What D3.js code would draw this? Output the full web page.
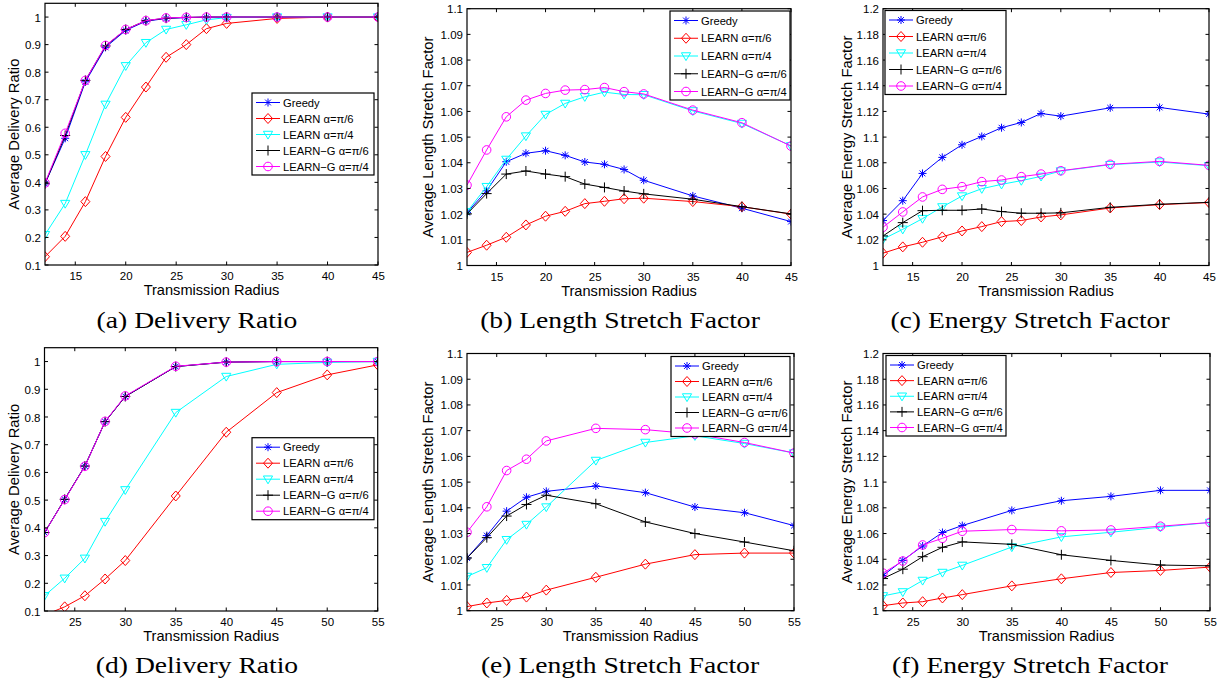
<!DOCTYPE html>
<html><head><meta charset="utf-8">
<script src="https://cdn.jsdelivr.net/npm/d3@7"></script>
<style>body{margin:0;background:#fff}svg{display:block}</style>
</head><body><svg id="c" width="1225" height="685"></svg>
<script>
// ---------- data ----------
const seriesNames = ["Greedy", "LEARN \u03b1=\u03c0/6", "LEARN \u03b1=\u03c0/4", "LEARN\u2212G \u03b1=\u03c0/6", "LEARN\u2212G \u03b1=\u03c0/4"];
const seriesColors = ["#0000ff", "#ff0000", "#00ffff", "#000000", "#ff00ff"];
const seriesMarkers = ["star", "diamond", "triangle", "plus", "circle"];

const radiusTop = [12, 14, 16, 18, 20, 22, 24, 26, 28, 30, 35, 40, 45];
const radiusBottom = [22, 24, 26, 28, 30, 35, 40, 45, 50, 55];
const xTicksTop = [15, 20, 25, 30, 35, 40, 45];
const xTicksBottom = [25, 30, 35, 40, 45, 50, 55];
const deliveryTicks = [0.1, 0.2, 0.3, 0.4, 0.5, 0.6, 0.7, 0.8, 0.9, 1];
const lengthTicks = [1, 1.01, 1.02, 1.03, 1.04, 1.05, 1.06, 1.07, 1.08, 1.09, 1.1];
const energyTicks = [1, 1.02, 1.04, 1.06, 1.08, 1.1, 1.12, 1.14, 1.16, 1.18, 1.2];

// (a) delivery ratio, top row
const deliveryA = [
  [0.395, 0.56, 0.765, 0.89, 0.952, 0.985, 0.995, 0.998, 1, 1, 1, 1, 1],
  [0.13, 0.204, 0.33, 0.494, 0.636, 0.746, 0.854, 0.9, 0.958, 0.977, 0.995, 1, 1],
  [0.21, 0.323, 0.5, 0.683, 0.823, 0.907, 0.955, 0.972, 0.99, 0.998, 1, 1, 1],
  [0.395, 0.57, 0.77, 0.895, 0.955, 0.987, 0.996, 0.999, 1, 1, 1, 1, 1],
  [0.398, 0.578, 0.77, 0.897, 0.955, 0.987, 0.997, 0.999, 1, 1, 1, 1, 1]
];
// (b) length stretch factor, top row
const lengthB = [
  [1.0206, 1.0291, 1.0404, 1.0437, 1.0447, 1.0429, 1.0403, 1.0394, 1.0374, 1.0332, 1.0271, 1.0223, 1.0171],
  [1.0051, 1.0079, 1.011, 1.0158, 1.0192, 1.0211, 1.0241, 1.025, 1.026, 1.0262, 1.0249, 1.0229, 1.02],
  [1.0209, 1.0307, 1.0413, 1.0504, 1.0588, 1.0631, 1.0657, 1.0675, 1.0666, 1.0665, 1.0602, 1.0553, 1.0466],
  [1.0201, 1.028, 1.0356, 1.0368, 1.0356, 1.0346, 1.0317, 1.0304, 1.029, 1.0279, 1.0258, 1.0229, 1.0201],
  [1.0313, 1.045, 1.0579, 1.0644, 1.067, 1.0683, 1.0685, 1.0693, 1.0677, 1.0668, 1.0605, 1.0556, 1.0465]
];
// (c) energy stretch factor, top row
const energyC = [
  [1.035, 1.0505, 1.0717, 1.0842, 1.094, 1.1005, 1.1073, 1.1114, 1.1184, 1.1163, 1.1228, 1.1231, 1.1179],
  [1.0096, 1.0145, 1.0181, 1.0223, 1.0269, 1.0303, 1.0342, 1.035, 1.0378, 1.0394, 1.0448, 1.0474, 1.049],
  [1.0205, 1.0282, 1.0365, 1.0456, 1.0541, 1.0598, 1.0632, 1.0661, 1.0694, 1.0736, 1.0785, 1.0806, 1.0777],
  [1.023, 1.0334, 1.0427, 1.043, 1.043, 1.044, 1.042, 1.0407, 1.0407, 1.041, 1.0453, 1.0477, 1.0492],
  [1.0298, 1.0417, 1.0534, 1.0593, 1.0614, 1.0653, 1.0666, 1.0692, 1.0712, 1.0738, 1.0788, 1.0811, 1.078]
];
// (d) delivery ratio, bottom row
const deliveryD = [
  [0.383, 0.503, 0.623, 0.783, 0.874, 0.982, 0.998, 1, 1, 1],
  [0.085, 0.115, 0.155, 0.2155, 0.282, 0.515, 0.745, 0.888, 0.952, 0.988],
  [0.155, 0.218, 0.29, 0.4225, 0.537, 0.816, 0.946, 0.99, 0.997, 1],
  [0.383, 0.503, 0.623, 0.783, 0.874, 0.982, 0.998, 1, 1, 1],
  [0.383, 0.502, 0.622, 0.784, 0.876, 0.983, 0.998, 1, 1, 1]
];
// (e) length stretch factor, bottom row
const lengthE = [
  [1.0205, 1.0292, 1.0387, 1.0441, 1.0464, 1.0485, 1.0459, 1.0403, 1.0381, 1.0331],
  [1.0016, 1.003, 1.004, 1.0053, 1.008, 1.013, 1.0181, 1.0218, 1.0224, 1.0224],
  [1.0133, 1.0167, 1.0276, 1.0335, 1.0403, 1.0584, 1.0654, 1.068, 1.065, 1.0613],
  [1.0205, 1.0284, 1.0368, 1.0413, 1.0449, 1.0416, 1.0345, 1.03, 1.0267, 1.0233],
  [1.0305, 1.0404, 1.0545, 1.0589, 1.066, 1.0709, 1.0704, 1.0687, 1.0654, 1.0613]
];
// (f) energy stretch factor, bottom row
const energyF = [
  [1.0274, 1.0391, 1.0503, 1.0608, 1.0662, 1.078, 1.0855, 1.0889, 1.0936, 1.0936],
  [1.0039, 1.006, 1.007, 1.0099, 1.0125, 1.0193, 1.0248, 1.0297, 1.0313, 1.0339],
  [1.0115, 1.0146, 1.0235, 1.0297, 1.0352, 1.0495, 1.0574, 1.061, 1.0649, 1.0686],
  [1.025, 1.0323, 1.042, 1.0493, 1.0535, 1.0516, 1.0435, 1.0391, 1.0355, 1.0349],
  [1.0292, 1.0386, 1.0511, 1.0563, 1.0618, 1.0631, 1.0621, 1.0628, 1.0657, 1.0686]
];

// ---------- layout ----------
const panels = [
  {id:"a", box:{l:45, r:378, t:3.3, b:265}, xd:[12,45], yd:[0.1,1.05], xs:radiusTop, xt:xTicksTop, yt:deliveryTicks, data:deliveryA,
   leg:{x:252, y:93, w:122, h:82}, ylab:"Average Delivery Ratio", ylabX:19, cap:"(a) Delivery Ratio", capX:197, capY:328},
  {id:"b", box:{l:467, r:791, t:8.7, b:265.5}, xd:[12,45], yd:[1,1.1], xs:radiusTop, xt:xTicksTop, yt:lengthTicks, data:lengthB,
   leg:{x:670, y:11, w:120, h:89}, ylab:"Average Length Stretch Factor", ylabX:433, cap:"(b) Length Stretch Factor", capX:620, capY:328},
  {id:"c", box:{l:883, r:1209, t:8.7, b:265.5}, xd:[12,45], yd:[1,1.2], xs:radiusTop, xt:xTicksTop, yt:energyTicks, data:energyC,
   leg:{x:885, y:10.5, w:121, h:84}, ylab:"Average Energy Stretch Factor", ylabX:851.5, cap:"(c) Energy Stretch Factor", capX:1030, capY:328},
  {id:"d", box:{l:44.5, r:377.7, t:347.7, b:611}, xd:[22,55], yd:[0.1,1.05], xs:radiusBottom, xt:xTicksBottom, yt:deliveryTicks, data:deliveryD,
   leg:{x:252, y:437.7, w:122, h:82}, ylab:"Average Delivery Ratio", ylabX:19, cap:"(d) Delivery Ratio", capX:197, capY:673},
  {id:"e", box:{l:467, r:794, t:353.5, b:610.7}, xd:[22,55], yd:[1,1.1], xs:radiusBottom, xt:xTicksBottom, yt:lengthTicks, data:lengthE,
   leg:{x:671, y:356.5, w:119, h:80}, ylab:"Average Length Stretch Factor", ylabX:433, cap:"(e) Length Stretch Factor", capX:620, capY:673},
  {id:"f", box:{l:883, r:1210, t:353.5, b:610.7}, xd:[22,55], yd:[1,1.2], xs:radiusBottom, xt:xTicksBottom, yt:energyTicks, data:energyF,
   leg:{x:886, y:355.5, w:120, h:80.5}, ylab:"Average Energy Stretch Factor", ylabX:851.5, cap:"(f) Energy Stretch Factor", capX:1030, capY:673}
];

const SANS = "'Liberation Sans', Arial, Helvetica, sans-serif";
const SERIF = "'Liberation Serif', 'Times New Roman', Times, serif";
const fmt = d => String(+d.toFixed(2));

function markerPath(kind) {
  if (kind === "star") { const s = 4, k = 2.9;
    return `M0,${-s}L0,${s}M${-s},0L${s},0M${-k},${-k}L${k},${k}M${-k},${k}L${k},${-k}`; }
  if (kind === "plus") { const s = 5; return `M0,${-s}L0,${s}M${-s},0L${s},0`; }
  if (kind === "diamond") { const s = 5; return `M0,${-s}L${s*0.9},0L0,${s}L${-s*0.9},0Z`; }
  if (kind === "triangle") { const s = 4.6; return `M${-s},${-s*0.7}L${s},${-s*0.7}L0,${s*1.0}Z`; }
  return null;
}
function drawMarker(g, kind, color, x, y) {
  if (kind === "circle") {
    g.append("circle").attr("cx", x).attr("cy", y).attr("r", 4.3)
      .attr("fill", "none").attr("stroke", color).attr("stroke-width", 1);
  } else {
    g.append("path").attr("d", markerPath(kind)).attr("transform", `translate(${x},${y})`)
      .attr("fill", "none").attr("stroke", color).attr("stroke-width", 1);
  }
}

const svg = d3.select("#c");
svg.append("rect").attr("width", 1225).attr("height", 685).attr("fill", "#fff");
const defs = svg.append("defs");

panels.forEach(p => {
  const {l, r, t, b} = p.box;
  const x = d3.scaleLinear().domain(p.xd).range([l, r]);
  const y = d3.scaleLinear().domain(p.yd).range([b, t]);
  const g = svg.append("g");

  defs.append("clipPath").attr("id", "clip-" + p.id)
    .append("rect").attr("x", l).attr("y", t).attr("width", r - l).attr("height", b - t);

  // axes (MATLAB style: inward ticks on all four sides)
  const tl = 3.5;
  const axB = g.append("g").attr("transform", `translate(0,${b})`)
    .call(d3.axisBottom(x).tickValues(p.xt).tickSize(0).tickPadding(5).tickFormat(d3.format("d")));
  const axT = g.append("g").attr("transform", `translate(0,${t})`)
    .call(d3.axisTop(x).tickValues(p.xt).tickSize(0).tickFormat(""));
  const axL = g.append("g").attr("transform", `translate(${l},0)`)
    .call(d3.axisLeft(y).tickValues(p.yt).tickSize(0).tickPadding(4).tickFormat(fmt));
  const axR = g.append("g").attr("transform", `translate(${r},0)`)
    .call(d3.axisRight(y).tickValues(p.yt).tickSize(0).tickFormat(""));
  [axB, axT, axL, axR].forEach(a => {
    a.select(".domain").remove();
    a.selectAll("text").attr("font-family", SANS).attr("font-size", 11.5).attr("fill", "#000");
  });
  axB.selectAll("text").attr("dy", "0").attr("y", 15);
  axL.selectAll("text").attr("dy", "0.35em");

  // series
  const plot = g.append("g").attr("clip-path", `url(#clip-${p.id})`);
  const line = d3.line().x((d, i) => x(p.xs[i])).y(d => y(d));
  p.data.forEach((vals, si) => {
    const sg = plot.append("g");
    sg.append("path").attr("d", line(vals)).attr("fill", "none")
      .attr("stroke", seriesColors[si]).attr("stroke-width", 1);
    vals.forEach((v, i) => {
      if (v < p.yd[0] || v > p.yd[1]) return;
      drawMarker(sg, seriesMarkers[si], seriesColors[si], x(p.xs[i]), y(v));
    });
  });

  // ticks + frame
  const tg = g.append("g").attr("stroke", "#000").attr("stroke-width", 1);
  p.xt.forEach(v => {
    tg.append("line").attr("x1", x(v)).attr("x2", x(v)).attr("y1", b).attr("y2", b - tl);
    tg.append("line").attr("x1", x(v)).attr("x2", x(v)).attr("y1", t).attr("y2", t + tl);
  });
  p.yt.forEach(v => {
    tg.append("line").attr("x1", l).attr("x2", l + tl).attr("y1", y(v)).attr("y2", y(v));
    tg.append("line").attr("x1", r).attr("x2", r - tl).attr("y1", y(v)).attr("y2", y(v));
  });
  g.append("rect").attr("x", l).attr("y", t).attr("width", r - l).attr("height", b - t)
    .attr("fill", "none").attr("stroke", "#000").attr("stroke-width", 1.2);

  // axis labels
  g.append("text").attr("x", (l + r) / 2).attr("y", b + 30).attr("text-anchor", "middle")
    .attr("font-family", SANS).attr("font-size", 14.6).text("Transmission Radius");
  g.append("text").attr("transform", `translate(${p.ylabX},${(t + b) / 2}) rotate(-90)`)
    .attr("text-anchor", "middle").attr("font-family", SANS).attr("font-size", 14.8).text(p.ylab);

  // legend
  const L = p.leg;
  const lg = g.append("g");
  lg.append("rect").attr("x", L.x).attr("y", L.y).attr("width", L.w).attr("height", L.h)
    .attr("fill", "#fff").attr("stroke", "#000").attr("stroke-width", 1.2);
  const step = (L.h - 18) / 4;
  seriesNames.forEach((name, si) => {
    const yy = L.y + 9.5 + si * step;
    lg.append("line").attr("x1", L.x + 4).attr("x2", L.x + 28).attr("y1", yy).attr("y2", yy)
      .attr("stroke", seriesColors[si]).attr("stroke-width", 1);
    drawMarker(lg, seriesMarkers[si], seriesColors[si], L.x + 16, yy);
    lg.append("text").attr("x", L.x + 31).attr("y", yy).attr("dy", "0.36em")
      .attr("font-family", SANS).attr("font-size", 11.2).text(name);
  });

  // caption (slightly wide serif, as in the reference)
  svg.append("text").attr("transform", `translate(${p.capX},${p.capY}) scale(1.15,1)`)
    .attr("text-anchor", "middle")
    .attr("font-family", SERIF).attr("font-size", 24).text(p.cap);
});
</script>
</body></html>
